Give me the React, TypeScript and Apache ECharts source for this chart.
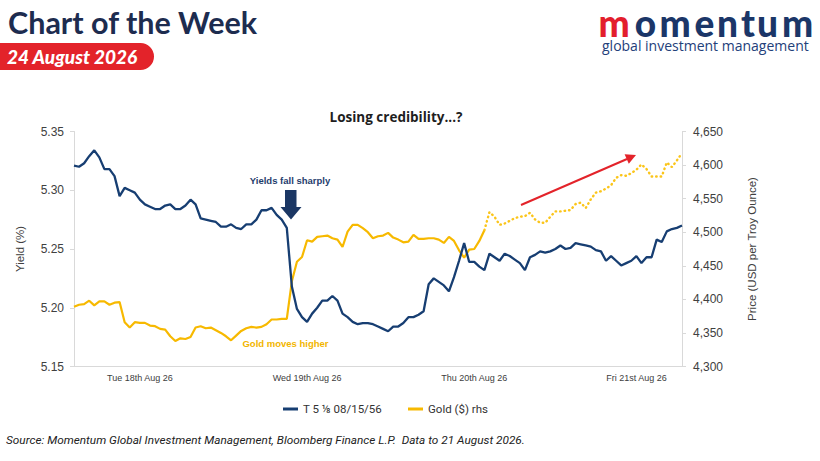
import React, { useEffect, useRef } from "react";
import * as echarts from "echarts";

// ---- data ----
const dayLabels = ["Tue 18th Aug 26", "Wed 19th Aug 26", "Thu 20th Aug 26", "Fri 21st Aug 26"];
const dayLabelIndex = [13, 46, 79, 111];

const seriesNames = ["T 5 \u215B 08/15/56", "Gold ($) rhs"];

const yieldValues = [
  5.321, 5.320, 5.323, 5.329, 5.334, 5.328, 5.318, 5.318, 5.312, 5.295,
  5.302, 5.300, 5.298, 5.292, 5.288, 5.286, 5.284, 5.284, 5.287, 5.288,
  5.284, 5.284, 5.287, 5.292, 5.288, 5.276, 5.275, 5.274, 5.273, 5.269,
  5.269, 5.271, 5.268, 5.267, 5.271, 5.271, 5.275, 5.283, 5.283, 5.285,
  5.279, 5.275, 5.268, 5.218, 5.199, 5.192, 5.188, 5.195, 5.200, 5.206,
  5.206, 5.210, 5.206, 5.195, 5.192, 5.188, 5.186, 5.187, 5.187, 5.186,
  5.184, 5.182, 5.180, 5.184, 5.184, 5.187, 5.192, 5.192, 5.194, 5.197,
  5.220, 5.225, 5.222, 5.219, 5.214, 5.226, 5.240, 5.255, 5.239, 5.239,
  5.235, 5.232, 5.246, 5.243, 5.240, 5.246, 5.244, 5.241, 5.238, 5.232,
  5.243, 5.245, 5.248, 5.247, 5.248, 5.250, 5.253, 5.250, 5.251, 5.255,
  5.254, 5.253, 5.252, 5.249, 5.248, 5.240, 5.244, 5.240, 5.236, 5.238,
  5.240, 5.244, 5.238, 5.243, 5.243, 5.258, 5.256, 5.265, 5.267, 5.268, 5.270,
];

const goldValues = [
  4389, 4392, 4393, 4398, 4391, 4397, 4397, 4392, 4395, 4396,
  4366, 4358, 4366, 4365, 4365, 4361, 4360, 4356, 4355, 4345,
  4338, 4342, 4341, 4344, 4358, 4360, 4357, 4358, 4354, 4350,
  4345, 4339, 4346, 4353, 4357, 4359, 4358, 4359, 4363, 4370,
  4370, 4371, 4371, 4427, 4456, 4463, 4488, 4486, 4493, 4494,
  4495, 4491, 4489, 4478, 4501, 4511, 4511, 4506, 4500, 4491,
  4494, 4495, 4499, 4492, 4489, 4485, 4486, 4496, 4490, 4490,
  4491, 4491, 4489, 4484, 4493, 4487, 4473, 4462, 4474, 4475,
  4487, 4503, 4530, 4523, 4511, 4513, 4517, 4521, 4523, 4524,
  4529, 4519, 4514, 4514, 4523, 4531, 4531, 4532, 4533, 4542,
  4544, 4536, 4549, 4559, 4561, 4565, 4570, 4581, 4585, 4584,
  4588, 4593, 4601, 4594, 4583, 4583, 4583, 4604, 4597, 4607, 4618,
];

const goldDottedFrom = 81;

const yieldAxis = { min: 5.15, max: 5.35, interval: 0.05 };
const goldAxis = { min: 4300, max: 4650, interval: 50 };

// ---- styles ----
const NAVY = "#173e72";
const GOLD = "#f7b900";
const RED = "#e3232a";
const AXIS_GREY = "#d9d9d9";
const LABEL = "#404040";

const logoLetters = ["m", "o", "m", "e", "n", "t", "u", "m"];
const logoCentres = [614, 645.5, 675, 704.5, 727.5, 748, 767.5, 797.5];

function txt(
  text: string,
  x: number,
  y: number,
  font: string,
  fill: string,
  align = "left",
  vAlign = "middle",
  lineHeight?: number
) {
  const style: any = {
    text,
    x,
    y,
    font,
    fill,
    textAlign: align,
    align,
    textVerticalAlign: vAlign,
    verticalAlign: vAlign,
  };
  if (lineHeight) style.lineHeight = lineHeight;
  return { type: "text", silent: true, style };
}

export default function App() {
  const ref = useRef<HTMLDivElement>(null);

  useEffect(() => {
    if (!ref.current) return;
    const chart = echarts.init(ref.current, undefined, { renderer: "svg" });
    const categories = yieldValues.map((_, i) => String(i));
    const goldSolid = goldValues.map((v, i) => (i <= goldDottedFrom ? v : null));
    const goldDotted = goldValues.map((v, i) => (i >= goldDottedFrom ? v : null));

    const graphic: any[] = [
      // header
      txt("Chart of the Week", 8, 22, "bold 30.5px Lato", "#1d2c4f"),
      {
        type: "rect",
        silent: true,
        shape: { x: -20, y: 43, width: 174, height: 27, r: 13.5 },
        style: { fill: RED },
      },
      txt("24 August 2026", 7, 56.5, "italic 900 19px Lato", "#ffffff"),
      // logo
      ...logoLetters.map((ch, i) =>
        txt(ch, logoCentres[i], 22, "900 37px Lato", i === 0 ? "#e31e2d" : "#1b3668", "center", "middle", 22)
      ),
      txt("global investment management", 602, 45, "14px 'Open Sans'", "#23407a", "left", "middle", 14),
      // chart title
      txt("Losing credibility...?", 396, 117, "bold 13.5px 'Open Sans'", "#1e1e1e", "center"),
      // annotations
      txt("Yields fall sharply", 290, 180.5, "bold 9.5px 'Liberation Sans'", "#1f3d6d", "center"),
      {
        type: "polygon",
        silent: true,
        shape: {
          points: [
            [285, 190], [296.5, 190], [296.5, 207], [301.5, 207],
            [291, 219.5], [280.5, 207], [285, 207],
          ],
        },
        style: { fill: "#1b3764" },
      },
      txt("Gold moves higher", 285.5, 343.3, "bold 9.5px 'Liberation Sans'", "#f2b500", "center"),
      {
        type: "line",
        silent: true,
        shape: { x1: 521, y1: 205, x2: 627, y2: 159 },
        style: { stroke: RED, lineWidth: 2 },
      },
      {
        type: "polygon",
        silent: true,
        shape: { points: [[636, 155], [628.8, 163.8], [624.6, 154.2]] },
        style: { fill: RED },
      },
      // source
      txt(
        "Source: Momentum Global Investment Management, Bloomberg Finance L.P.  Data to 21 August 2026.",
        6,
        440,
        "italic 11.8px Roboto",
        "#222222"
      ),
    ];

    const option: any = {
      animation: false,
      backgroundColor: "#ffffff",
      grid: { left: 74, right: 138, top: 131.5, bottom: 94.5, containLabel: false },
      legend: {
        left: 278,
        top: 398,
        itemWidth: 15,
        itemHeight: 3,
        itemGap: 26,
        selectedMode: false,
        textStyle: { fontFamily: "Roboto", fontSize: 11.5, color: "#333333" },
        data: [
          { name: seriesNames[0], icon: "rect", itemStyle: { color: NAVY } },
          { name: seriesNames[1], icon: "rect", itemStyle: { color: GOLD } },
        ],
      },
      xAxis: {
        type: "category",
        data: categories,
        boundaryGap: false,
        axisLine: { show: true, lineStyle: { color: AXIS_GREY, width: 1 } },
        axisTick: { show: false },
        splitLine: { show: false },
        axisLabel: {
          interval: (idx: number) => dayLabelIndex.includes(idx),
          formatter: (v: string) => {
            const k = dayLabelIndex.indexOf(Number(v));
            return k >= 0 ? dayLabels[k] : "";
          },
          color: LABEL,
          fontFamily: "Liberation Sans",
          fontSize: 9,
          margin: 7,
        },
      },
      yAxis: [
        {
          type: "value",
          position: "left",
          min: yieldAxis.min,
          max: yieldAxis.max,
          interval: yieldAxis.interval,
          name: "Yield (%)",
          nameLocation: "middle",
          nameGap: 48,
          nameTextStyle: { color: LABEL, fontFamily: "Liberation Sans", fontSize: 11.5 },
          axisLine: { show: true, lineStyle: { color: AXIS_GREY } },
          axisTick: { show: true, length: 4, lineStyle: { color: AXIS_GREY } },
          splitLine: { show: false },
          axisLabel: {
            formatter: (v: number) => v.toFixed(2),
            color: LABEL,
            fontFamily: "Liberation Sans",
            fontSize: 12,
            margin: 10,
          },
        },
        {
          type: "value",
          position: "right",
          min: goldAxis.min,
          max: goldAxis.max,
          interval: goldAxis.interval,
          name: "Price (USD per Troy Ounce)",
          nameLocation: "middle",
          nameGap: 64,
          nameRotate: 90,
          nameTextStyle: { color: LABEL, fontFamily: "Liberation Sans", fontSize: 11.5 },
          axisLine: { show: true, lineStyle: { color: AXIS_GREY } },
          axisTick: { show: true, length: 4, lineStyle: { color: AXIS_GREY } },
          splitLine: { show: false },
          axisLabel: {
            formatter: (v: number) => v.toLocaleString("en-US"),
            color: LABEL,
            fontFamily: "Liberation Sans",
            fontSize: 12,
            margin: 11,
          },
        },
      ],
      series: [
        {
          name: seriesNames[0],
          type: "line",
          yAxisIndex: 0,
          data: yieldValues,
          showSymbol: false,
          symbol: "none",
          itemStyle: { color: NAVY },
          lineStyle: { color: NAVY, width: 2.3 },
          z: 3,
        },
        {
          name: seriesNames[1],
          type: "line",
          yAxisIndex: 1,
          data: goldSolid,
          showSymbol: false,
          symbol: "none",
          itemStyle: { color: GOLD },
          lineStyle: { color: GOLD, width: 2.2 },
          z: 2,
        },
        {
          name: "Gold ($) rhs (dotted)",
          type: "line",
          yAxisIndex: 1,
          data: goldDotted,
          showSymbol: false,
          symbol: "none",
          itemStyle: { color: GOLD },
          lineStyle: { color: "#fbc51a", width: 2.4, type: [0.5, 4], cap: "round" },
          z: 2,
        },
      ],
      graphic,
    };

    chart.setOption(option);
    return () => chart.dispose();
  }, []);

  return (
    <div
      ref={ref}
      style={{ position: "absolute", left: 0, top: 0, width: 820, height: 461, background: "#fff" }}
    />
  );
}
